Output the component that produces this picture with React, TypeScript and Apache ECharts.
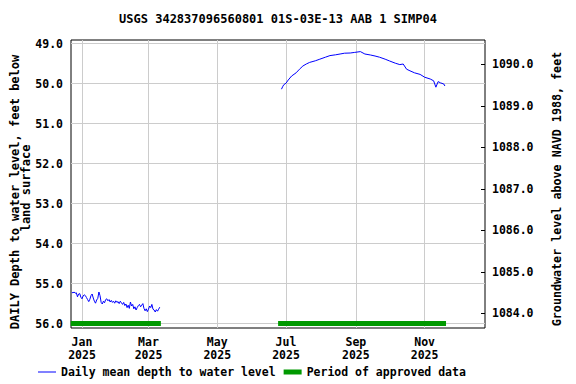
import React, { useEffect, useRef } from 'react';
import * as echarts from 'echarts';

const chartTitle = 'USGS 342837096560801 01S-03E-13 AAB 1 SIMP04';
const leftNameLine1 = 'DAILY Depth to water level, feet below';
const leftNameLine2 = 'land surface';
const rightName = 'Groundwater level above NAVD 1988, feet';
const depthName = 'Daily mean depth to water level';
const approvedName = 'Period of approved data';

const depthTicks = [49, 50, 51, 52, 53, 54, 55, 56];
const levelTicks = [1084, 1085, 1086, 1087, 1088, 1089, 1090];
const monthTicks = ['2025-01-01', '2025-03-01', '2025-05-01', '2025-07-01', '2025-09-01', '2025-11-01'];
const monthNames = ['Jan', 'Feb', 'Mar', 'Apr', 'May', 'Jun', 'Jul', 'Aug', 'Sep', 'Oct', 'Nov', 'Dec'];

// segment 1: daily values starting 2024-12-23
const seg1Start = '2024-12-23';
const seg1Values = [
  55.22, 55.23, 55.21, 55.24, 55.23, 55.33, 55.26, 55.25, 55.34, 55.38,
  55.31, 55.28, 55.30, 55.35, 55.40, 55.45, 55.39, 55.30, 55.26, 55.36,
  55.44, 55.49, 55.41, 55.37, 55.21, 55.30, 55.47, 55.51, 55.44, 55.48,
  55.40, 55.38, 55.43, 55.40, 55.46, 55.42, 55.47, 55.44, 55.49, 55.43,
  55.47, 55.45, 55.50, 55.44, 55.48, 55.52, 55.47, 55.55, 55.51, 55.60,
  55.54, 55.62, 55.46, 55.56, 55.52, 55.63, 55.58, 55.66, 55.60, 55.55,
  55.52, 55.58, 55.54, 55.50, 55.62, 55.68, 55.63, 55.70, 55.64, 55.56,
  55.60, 55.52, 55.64, 55.66, 55.71, 55.65, 55.69, 55.64, 55.59,
];

// segment 2
const seg2Dates = [
  '2025-06-27', '2025-06-28', '2025-06-29', '2025-07-01', '2025-07-03', '2025-07-06',
  '2025-07-10', '2025-07-13', '2025-07-16', '2025-07-19', '2025-07-22', '2025-07-27',
  '2025-07-31', '2025-08-05', '2025-08-09', '2025-08-14', '2025-08-18', '2025-08-22',
  '2025-08-27', '2025-08-31', '2025-09-05', '2025-09-09', '2025-09-14', '2025-09-18',
  '2025-09-22', '2025-09-27', '2025-10-01', '2025-10-06', '2025-10-10', '2025-10-13',
  '2025-10-16', '2025-10-19', '2025-10-23', '2025-10-28', '2025-11-01', '2025-11-06',
  '2025-11-09', '2025-11-11', '2025-11-13', '2025-11-15', '2025-11-18', '2025-11-19',
];
const seg2Values = [
  50.14, 50.08, 50.03, 49.99, 49.91, 49.81,
  49.73, 49.64, 49.56, 49.51, 49.47, 49.43,
  49.39, 49.34, 49.30, 49.28, 49.26, 49.24,
  49.235, 49.22, 49.20, 49.26, 49.285, 49.31,
  49.34, 49.39, 49.435, 49.49, 49.525, 49.51,
  49.64, 49.68, 49.73, 49.77, 49.84, 49.885,
  49.93, 50.09, 49.95, 49.98, 50.01, 50.06,
];

const approvedPeriods = [
  ['2024-12-22', '2025-03-12'],
  ['2025-06-24', '2025-11-20'],
];
const approvedDepth = 56.0;

const xMin = '2024-12-22T06:00';
const xMax = '2025-12-24T14:00';

function ts(s: string): number {
  const [datePart, timePart] = s.split('T');
  const [y, m, d] = datePart.split('-').map(Number);
  let h = 0, mi = 0;
  if (timePart) {
    const p = timePart.split(':').map(Number);
    h = p[0];
    mi = p[1] || 0;
  }
  return new Date(y, m - 1, d, h, mi).getTime();
}

const FONT = '"DejaVu Sans Mono", monospace';

export default function App() {
  const ref = useRef<HTMLDivElement>(null);

  useEffect(() => {
    if (!ref.current) return;
    const chart = echarts.init(ref.current, null, { renderer: 'svg' });

    const startTs = ts(seg1Start);
    const seg1 = seg1Values.map((v, i) => [startTs + i * 86400000, v]);
    const seg2 = seg2Dates.map((d, i) => [ts(d), seg2Values[i]]);

    const labelStyle = { fontFamily: FONT, fontWeight: 'bold' as const, fontSize: 11.5, color: '#000' };

    const option: any = {
      animation: false,
      backgroundColor: '#fff',
      grid: {
        left: 71, right: 91, top: 40, bottom: 56,
        show: true, borderColor: '#000', borderWidth: 1, backgroundColor: 'transparent',
        outerBoundsMode: 'none',
      },
      legend: {
        left: 38, top: 366, padding: 0,
        itemWidth: 18, itemHeight: 10, itemGap: 8,
        textStyle: { ...labelStyle, fontSize: 11.5 },
        data: [
          {
            name: depthName,
            icon: 'path://M0,0 L18,0 L18,1 L0,1 Z',
            itemStyle: { color: '#0000ff', borderWidth: 0 },
          },
          {
            name: approvedName,
            icon: 'path://M0,0 L18,0 L18,5 L0,5 Z',
            itemStyle: { color: '#009900', borderWidth: 0 },
          },
        ],
        selectedMode: false,
      },
      xAxis: {
        type: 'value',
        min: ts(xMin),
        max: ts(xMax),
        axisLine: { show: false },
        axisTick: { show: false },
        splitLine: { show: false },
        axisLabel: {
          ...labelStyle,
          customValues: monthTicks.map(ts),
          margin: 7,
          lineHeight: 13,
          hideOverlap: false,
          formatter: (v: number) => {
            const d = new Date(v);
            return monthNames[d.getMonth()] + '\n' + d.getFullYear();
          },
        },
      },
      yAxis: [
        {
          type: 'value',
          inverse: true,
          min: 48.91,
          max: 56.11,
          position: 'left',
          axisLine: { show: false },
          axisTick: { show: false },
          splitLine: { show: false },
          axisLabel: {
            ...labelStyle,
            margin: 8,
            customValues: depthTicks,
            formatter: (v: number) => v.toFixed(1),
          },
        },
        {
          type: 'value',
          min: 1083.65,
          max: 1090.59,
          position: 'right',
          axisLine: { show: false },
          axisTick: { show: true, inside: true, length: 4, customValues: levelTicks, lineStyle: { color: '#000' } },
          splitLine: { show: false },
          axisLabel: {
            ...labelStyle,
            margin: 7,
            customValues: levelTicks,
            formatter: (v: number) => v.toFixed(1),
          },
        },
      ],
      series: [
        {
          name: 'grid',
          type: 'line',
          data: [],
          silent: true,
          z: 1,
          markLine: {
            silent: true,
            z: 1,
            symbol: ['none', 'none'],
            label: { show: false },
            emphasis: { disabled: true },
            lineStyle: { color: '#cccccc', type: 'solid', width: 1 },
            data: [
              ...depthTicks.map((v) => ({ yAxis: v })),
              ...monthTicks.map((m) => ({ xAxis: ts(m) })),
            ],
          },
        },
        ...approvedPeriods.map((p) => ({
          name: approvedName,
          type: 'line',
          yAxisIndex: 0,
          symbol: 'none',
          silent: true,
          z: 3,
          color: '#009900',
          lineStyle: { color: '#009900', width: 5, cap: 'butt' },
          data: [[ts(p[0]), approvedDepth], [ts(p[1]), approvedDepth]],
        })),
        {
          name: depthName,
          type: 'line',
          yAxisIndex: 0,
          symbol: 'none',
          silent: true,
          z: 3,
          color: '#0000ff',
          lineStyle: { color: '#0000ff', width: 1 },
          data: seg1,
        },
        {
          name: depthName,
          type: 'line',
          yAxisIndex: 0,
          symbol: 'none',
          silent: true,
          z: 3,
          color: '#0000ff',
          lineStyle: { color: '#0000ff', width: 1 },
          data: seg2,
        },
      ],
      graphic: [
        {
          type: 'text', x: 278, y: 19, silent: true,
          style: { text: chartTitle, font: `bold 12px ${FONT}`, fill: '#000', align: 'center', verticalAlign: 'middle' },
        },
        {
          type: 'text', x: 15, y: 192, rotation: Math.PI / 2, silent: true,
          style: { text: leftNameLine1, font: `bold 12px ${FONT}`, fill: '#000', align: 'center', verticalAlign: 'middle' },
        },
        {
          type: 'text', x: 26, y: 188, rotation: Math.PI / 2, silent: true,
          style: { text: leftNameLine2, font: `bold 12px ${FONT}`, fill: '#000', align: 'center', verticalAlign: 'middle' },
        },
        {
          type: 'text', x: 557, y: 189, rotation: Math.PI / 2, silent: true,
          style: { text: rightName, font: `bold 11.7px ${FONT}`, fill: '#000', align: 'center', verticalAlign: 'middle' },
        },
      ],
    };

    chart.setOption(option);
    return () => chart.dispose();
  }, []);

  return <div ref={ref} style={{ width: 576, height: 384, position: 'absolute', left: 0, top: 0 }} />;
}
